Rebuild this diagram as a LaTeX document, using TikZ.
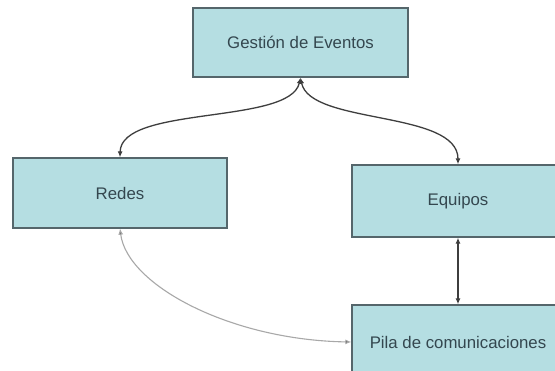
\documentclass[tikz,border=0pt]{standalone}
\usepackage{fontspec}
\setmainfont{Liberation Sans}
\usetikzlibrary{arrows.meta}
\definecolor{boxfill}{HTML}{B5DEE2}
\definecolor{boxline}{HTML}{55666B}
\definecolor{txt}{HTML}{34474F}
\definecolor{lnk}{HTML}{3E3E3E}
\definecolor{lnkgray}{HTML}{A8A8A8}
\tikzset{
  box/.style={draw=boxline, line width=1.3pt, fill=boxfill, text=txt,
    font=\fontsize{16.8}{20}\selectfont, inner sep=0pt},
  link/.style={draw=lnk, line width=1.3pt, {Latex[length=6pt,width=5pt]}-{Latex[length=6pt,width=5pt]}},
  softlink/.style={draw=lnkgray, line width=1.1pt, {Latex[length=6pt,width=5pt,fill=black]}-{Latex[length=6pt,width=5pt,fill=black]}}
}
\begin{document}
\begin{tikzpicture}[x=1pt,y=-1pt]
\useasboundingbox (0,0) rectangle (555,370);
\clip (0,0) rectangle (555,370);
\fill[white] (0,0) rectangle (555,370);
\node[box, minimum width=215pt, minimum height=69pt] (ges) at (300.5,42.5) {Gestión de Eventos};
\node[box, minimum width=214pt, minimum height=70pt] (red) at (120,193) {Redes};
\node[box, minimum width=212pt, minimum height=72pt] (equ) at (458,201) {Equipos};
\node[box, minimum width=212pt, minimum height=74pt] (pil) at (458,342) {Pila de comunicaciones};
\draw[link] (ges.south) .. controls (290,125) and (121,105) .. (red.north);
\draw[link] (ges.south) .. controls (310,125) and (458,110) .. (equ.north);
\draw[link] (equ.south) -- (pil.north);
\draw[softlink] (red.south) .. controls (127,285) and (230,340) .. (pil.west);
\end{tikzpicture}
\end{document}
